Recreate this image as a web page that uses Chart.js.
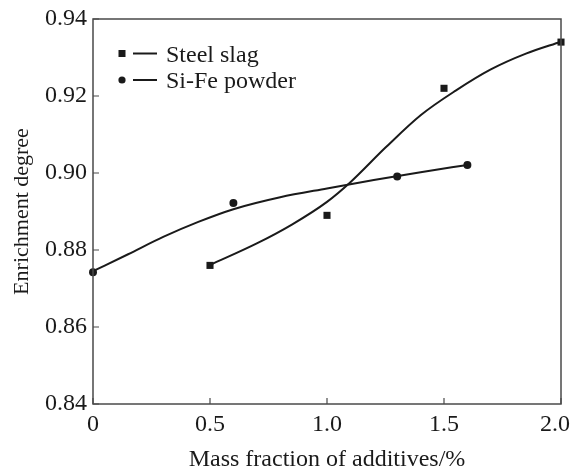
<!DOCTYPE html>
<html>
<head>
<meta charset="utf-8">
<script src="https://cdn.jsdelivr.net/npm/chart.js@4.4.1/dist/chart.umd.min.js"></script>
<style>
  html, body { margin: 0; padding: 0; background: #fff; }
  #wrap { width: 571px; height: 468px; }
</style>
</head>
<body>
<div id="wrap"><canvas id="c" width="571" height="468"></canvas></div>
<script>
// tick values / labels
const xTickValues = [0, 0.5, 1.0, 1.5, 2.0];
const xTickLabels = ['0', '0.5', '1.0', '1.5', '2.0'];
const yTickValues = [0.84, 0.86, 0.88, 0.90, 0.92, 0.94];
const yTickLabels = ['0.84', '0.86', '0.88', '0.90', '0.92', '0.94'];

const seriesNames = ['Steel slag', 'Si-Fe powder'];

// measured points
const steelX = [0.5, 1.0, 1.5, 2.0];
const steelY = [0.876, 0.889, 0.922, 0.934];
const sifeX = [0, 0.6, 1.3, 1.6];
const sifeY = [0.8742, 0.8922, 0.8991, 0.9021];

// fitted curves
const steelFitX = [0.5, 0.7, 0.85, 1.0, 1.1, 1.25, 1.4, 1.55, 1.7, 1.85, 2.0];
const steelFitY = [0.8761, 0.8817, 0.8866, 0.8925, 0.8976, 0.9066, 0.9150, 0.9214, 0.9269, 0.9310, 0.9341];
const sifeFitX = [0, 0.15, 0.3, 0.45, 0.6, 0.8, 1.0, 1.2, 1.4, 1.6];
const sifeFitY = [0.8745, 0.8789, 0.8834, 0.8873, 0.8906, 0.8937, 0.8960, 0.8982, 0.9002, 0.9021];

const pts = (xs, ys) => xs.map((x, i) => ({ x: x, y: ys[i] }));

const FONT = 'Liberation Serif';
const INK = '#1a1a1a';

// frame, inward ticks and the legend inside the plot
const decor = {
  id: 'decor',
  afterDraw(chart) {
    const { ctx, chartArea: a, scales } = chart;
    ctx.save();
    ctx.strokeStyle = '#4a4a4a';
    ctx.lineWidth = 1.5;
    ctx.strokeRect(a.left, a.top, a.right - a.left, a.bottom - a.top);

    ctx.lineWidth = 1.2;
    ctx.beginPath();
    xTickValues.forEach(v => {
      const px = scales.x.getPixelForValue(v);
      ctx.moveTo(px, a.bottom);
      ctx.lineTo(px, a.bottom - 6);
    });
    yTickValues.forEach(v => {
      const py = scales.y.getPixelForValue(v);
      ctx.moveTo(a.left, py);
      ctx.lineTo(a.left + 6, py);
    });
    ctx.stroke();

    // legend
    ctx.fillStyle = INK;
    ctx.strokeStyle = INK;
    ctx.lineWidth = 2;
    ctx.font = '24px "' + FONT + '"';
    ctx.textBaseline = 'middle';
    seriesNames.forEach((name, i) => {
      const y = a.top + 34.5 + i * 26.5;
      const mx = a.left + 29;
      if (i === 0) {
        ctx.fillRect(mx - 3.5, y - 3.5, 7, 7);
      } else {
        ctx.beginPath();
        ctx.arc(mx, y, 3.6, 0, Math.PI * 2);
        ctx.fill();
      }
      ctx.beginPath();
      ctx.moveTo(mx + 11, y);
      ctx.lineTo(mx + 35, y);
      ctx.stroke();
      ctx.fillText(name, mx + 44, y + 2);
    });
    ctx.restore();
  }
};

new Chart(document.getElementById('c'), {
  type: 'scatter',
  data: {
    datasets: [
      {
        label: seriesNames[0] + ' fit',
        data: pts(steelFitX, steelFitY),
        showLine: true,
        pointRadius: 0,
        borderColor: INK,
        borderWidth: 2,
        cubicInterpolationMode: 'monotone'
      },
      {
        label: seriesNames[1] + ' fit',
        data: pts(sifeFitX, sifeFitY),
        showLine: true,
        pointRadius: 0,
        borderColor: INK,
        borderWidth: 2,
        cubicInterpolationMode: 'monotone'
      },
      {
        label: seriesNames[0],
        data: pts(steelX, steelY),
        pointStyle: 'rect',
        pointRadius: 5,
        backgroundColor: INK,
        borderColor: INK,
        borderWidth: 0
      },
      {
        label: seriesNames[1],
        data: pts(sifeX, sifeY),
        pointStyle: 'circle',
        pointRadius: 4,
        backgroundColor: INK,
        borderColor: INK,
        borderWidth: 0
      }
    ]
  },
  options: {
    responsive: false,
    animation: false,
    events: [],
    clip: false,
    layout: { padding: { left: 0, right: 10, top: 19, bottom: 0 } },
    plugins: {
      legend: { display: false },
      tooltip: { enabled: false }
    },
    scales: {
      x: {
        type: 'linear',
        min: 0,
        max: 2.0,
        grid: { display: false, drawTicks: false },
        border: { display: false },
        afterBuildTicks: s => { s.ticks = xTickValues.map(v => ({ value: v })); },
        afterFit: s => { s.height = 64; s.paddingLeft = 0; s.paddingRight = 0; },
        ticks: {
          color: INK,
          padding: 6,
          maxRotation: 0,
          font: { family: FONT, size: 24 },
          // last label is pushed a little left so it stays inside the page
          callback: (v, i) => i === xTickLabels.length - 1 ? xTickLabels[i] + '\u2002' : xTickLabels[i]
        },
        title: {
          display: true,
          text: 'Mass fraction of additives/%',
          color: INK,
          font: { family: FONT, size: 24, lineHeight: 0.7 },
          padding: { top: 0, bottom: 0 }
        }
      },
      y: {
        type: 'linear',
        min: 0.84,
        max: 0.94,
        grid: { display: false, drawTicks: false },
        border: { display: false },
        afterBuildTicks: s => { s.ticks = yTickValues.map(v => ({ value: v })); },
        afterFit: s => { s.width = 93; s.paddingTop = 0; s.paddingBottom = 0; },
        ticks: {
          color: INK,
          padding: 6,
          font: { family: FONT, size: 24 },
          callback: (v, i) => yTickLabels[i]
        },
        title: {
          display: true,
          text: 'Enrichment degree',
          color: INK,
          font: { family: FONT, size: 22 },
          padding: { top: 9, bottom: 0 }
        }
      }
    }
  },
  plugins: [decor]
});
</script>
</body>
</html>
